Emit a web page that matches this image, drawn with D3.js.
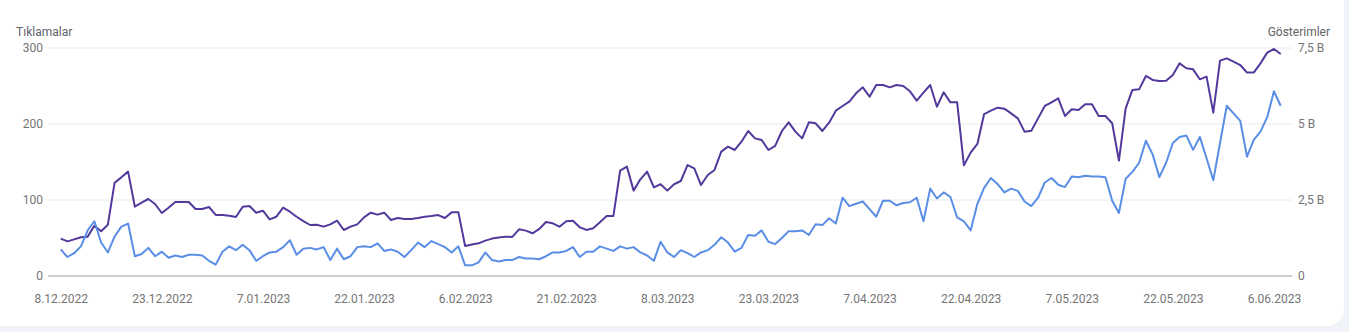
<!DOCTYPE html>
<html lang="tr">
<head>
<meta charset="utf-8">
<script src="https://cdn.jsdelivr.net/npm/d3@7"></script>
<style>
  html, body { margin: 0; padding: 0; background: #f0f3f8; }
  svg { display: block; font-family: Roboto, "Noto Sans", sans-serif; }
</style>
</head>
<body>
<svg id="chart" width="1349" height="332"></svg>
<script>
// Daily series, 8.12.2022 .. 7.06.2023 (182 days)
const startDate = new Date(2022, 11, 8);

// Tıklamalar (left axis)
const clicks = [
  35, 25, 30, 39, 60, 72, 44, 31, 52, 65, 69, 26, 29, 37, 26, 32, 24, 27, 25, 28,
  28, 27, 20, 15, 32, 39, 34, 41, 34, 20, 26, 31, 32, 38, 47, 28, 36, 37, 35, 38,
  21, 36, 22, 26, 38, 39, 38, 43, 33, 35, 32, 25, 34, 44, 38, 46, 42, 38, 31, 39,
  14, 14, 18, 31, 21, 19, 21, 21, 25, 23, 23, 22, 26, 31, 31, 33, 38, 25, 32, 32,
  39, 36, 33, 39, 36, 38, 31, 27, 20, 45, 31, 25, 34, 30, 25, 31, 34, 41, 51, 44,
  32, 37, 54, 53, 60, 45, 42, 50, 59, 59, 60, 54, 68, 67, 76, 69, 103, 92, 95, 98,
  88, 78, 99, 99, 93, 96, 97, 103, 72, 115, 102, 110, 104, 77, 72, 60, 95, 116, 129, 121,
  110, 115, 112, 98, 92, 103, 123, 129, 120, 117, 131, 130, 132, 131, 131, 130, 99, 83, 128, 137,
  149, 178, 160, 130, 149, 175, 183, 185, 166, 183, 155, 126, 175, 224, 214, 204, 157, 179, 190, 209,
  243, 224
];

// Gösterimler (right axis)
const impressions = [
  1228, 1140, 1205, 1273, 1295, 1655, 1470, 1688, 3070, 3245,
  3433, 2280, 2413, 2533, 2368, 2073, 2248, 2435, 2435, 2435,
  2203, 2203, 2270, 2008, 2008, 1985, 1940, 2280, 2303, 2083,
  2148, 1863, 1950, 2248, 2115, 1950, 1808, 1678, 1688, 1623,
  1700, 1820, 1513, 1623, 1700, 1930, 2083, 2018, 2083, 1843,
  1908, 1875, 1875, 1908, 1950, 1973, 2005, 1908, 2093, 2093,
  988, 1033, 1075, 1163, 1230, 1263, 1295, 1285, 1535, 1493,
  1405, 1548, 1778, 1733, 1623, 1800, 1820, 1603, 1515, 1570,
  1768, 1975, 1975, 3465, 3598, 2808, 3180, 3433, 2918, 3018,
  2808, 3018, 3125, 3650, 3543, 2993, 3323, 3488, 4090, 4255,
  4145, 4418, 4770, 4528, 4473, 4145, 4278, 4770, 5055, 4748,
  4528, 5055, 5023, 4770, 5043, 5438, 5593, 5735, 6008, 6205,
  5900, 6283, 6283, 6205, 6283, 6250, 6075, 5768, 6030, 6283,
  5570, 6043, 5713, 5713, 3640, 4058, 4343, 5328, 5438, 5538,
  5505, 5350, 5185, 4748, 4780, 5185, 5593, 5713, 5845, 5263,
  5483, 5460, 5648, 5648, 5263, 5263, 5025, 3795, 5515, 6120,
  6140, 6580, 6448, 6415, 6425, 6613, 6995, 6833, 6798, 6470,
  6558, 5373, 7083, 7160, 7050, 6940, 6690, 6690, 6995, 7348,
  7468, 7303
];

const leftTicks = [0, 100, 200, 300];
const rightTicks = [0, 2500, 5000, 7500];
const tickDays = [0, 15, 30, 45, 60, 75, 90, 105, 120, 135, 150, 165, 180];

const dates = clicks.map((_, i) => d3.timeDay.offset(startDate, i));

const svg = d3.select('#chart');

// card with rounded bottom corners
svg.append('rect')
  .attr('x', -20).attr('y', -20)
  .attr('width', 1364).attr('height', 346)
  .attr('rx', 16)
  .attr('fill', '#ffffff');

// scales
const x = d3.scaleTime()
  .domain([dates[0], dates[dates.length - 1]])
  .range([60.7, 1280.7]);
const yL = d3.scaleLinear().domain([0, 300]).range([276, 48]);
const yR = d3.scaleLinear().domain([0, 7500]).range([276, 48]);

// gridlines
svg.append('g')
  .selectAll('line')
  .data(leftTicks.filter(d => d > 0))
  .enter().append('line')
  .attr('x1', 48).attr('x2', 1292)
  .attr('y1', d => yL(d)).attr('y2', d => yL(d))
  .attr('stroke', '#e8eaed')
  .attr('stroke-width', 1);

// baseline
svg.append('line')
  .attr('x1', 48).attr('x2', 1292)
  .attr('y1', yL(0)).attr('y2', yL(0))
  .attr('stroke', '#9aa0a6')
  .attr('stroke-width', 1);

// left axis labels
svg.append('g')
  .selectAll('text')
  .data(leftTicks)
  .enter().append('text')
  .attr('x', 43)
  .attr('y', d => yL(d))
  .attr('dy', '0.35em')
  .attr('text-anchor', 'end')
  .attr('font-size', 12)
  .attr('fill', '#757575')
  .text(d => d);

// right axis labels
const fmtR = d => d === 0 ? '0' : (d / 1000).toString().replace('.', ',') + ' B';
svg.append('g')
  .selectAll('text')
  .data(rightTicks)
  .enter().append('text')
  .attr('x', 1298)
  .attr('y', d => yR(d))
  .attr('dy', '0.35em')
  .attr('font-size', 12)
  .attr('fill', '#757575')
  .text(fmtR);

// axis titles
svg.append('text')
  .attr('x', 16).attr('y', 35.5)
  .attr('font-size', 12)
  .attr('fill', '#5f6368')
  .text('Tıklamalar');
svg.append('text')
  .attr('x', 1330).attr('y', 35.5)
  .attr('text-anchor', 'end')
  .attr('font-size', 12)
  .attr('fill', '#5f6368')
  .text('Gösterimler');

// x axis labels
const fmtX = d3.timeFormat('%-d.%m.%Y');
const xAxis = d3.axisBottom(x)
  .tickValues(tickDays.map(d => d3.timeDay.offset(startDate, d)))
  .tickFormat(fmtX)
  .tickSize(0)
  .tickPadding(0);
const gx = svg.append('g')
  .attr('transform', 'translate(0,294)')
  .call(xAxis);
gx.select('.domain').remove();
gx.selectAll('text')
  .attr('font-family', 'Roboto, sans-serif')
  .attr('font-size', 12)
  .attr('fill', '#757575');

// lines
const lineImp = d3.line()
  .x((d, i) => x(dates[i]))
  .y(d => yR(d));
const lineClk = d3.line()
  .x((d, i) => x(dates[i]))
  .y(d => yL(d));

svg.append('path')
  .datum(impressions)
  .attr('d', lineImp)
  .attr('fill', 'none')
  .attr('stroke', '#52399b')
  .attr('stroke-width', 2)
  .attr('stroke-linejoin', 'round');

svg.append('path')
  .datum(clicks)
  .attr('d', lineClk)
  .attr('fill', 'none')
  .attr('stroke', '#5a8ee6')
  .attr('stroke-width', 2)
  .attr('stroke-linejoin', 'round');
</script>
</body>
</html>
